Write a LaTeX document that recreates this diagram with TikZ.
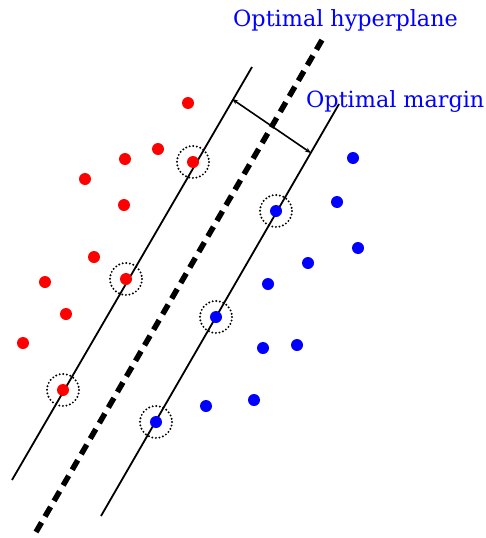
\documentclass[tikz,border=0pt]{standalone}
\usepackage{tikz}
\usepackage{fontspec}
\setmainfont{DejaVu Serif}
\usetikzlibrary{arrows.meta}

\tikzset{
  redpt/.style={circle,fill=red,inner sep=0pt,minimum size=12pt},
  bluept/.style={circle,fill=blue,inner sep=0pt,minimum size=12pt},
  svring/.style={line width=2.2pt,line cap=round,dash pattern=on 0pt off 3.6pt},
  planetext/.style={text=blue,inner sep=0pt,anchor=base west,font=\fontsize{22.3}{26}\selectfont}
}

\begin{document}
\begin{tikzpicture}[x=1pt,y=-1pt,>={Stealth[length=6pt,width=4.5pt]}]
  \useasboundingbox (0,0) rectangle (486,538);
  % margin lines and hyperplane
  \coordinate (lbot) at (12,480);  \coordinate (ltop) at (252,67);
  \coordinate (rbot) at (101,516); \coordinate (rtop) at (339,104);
  \coordinate (hbot) at (36,532);  \coordinate (htop) at (322,40);
  \draw[line width=1.8pt] (lbot) -- (ltop);
  \draw[line width=1.8pt] (rbot) -- (rtop);
  \draw[line width=5.5pt, dash pattern=on 11pt off 7pt] (hbot) -- (htop);
  \coordinate (ma) at (232,99);
  \coordinate (mb) at (311,153);
  \draw[<->, line width=1.6pt] (ma) -- (mb);
  % the two classes
  \foreach \px/\py [count=\i] in {188/103,125/159,158/149,85/179,124/205,193/162,
                                   94/257,45/282,126/279,66/314,23/343,63/390}
    \node[redpt] (r\i) at (\px,\py) {};
  \foreach \px/\py [count=\i] in {353/158,337/202,276/211,358/248,308/263,268/284,
                                   216/317,297/345,263/348,206/406,254/400,156/422}
    \node[bluept] (b\i) at (\px,\py) {};
  % support vectors
  \foreach \n in {r6,r9,r12,b3,b7,b12}
    \draw[svring] (\n) circle[radius=16];
  \node[planetext] (hyp) at (233,27) {Optimal hyperplane};
  \node[planetext] (mar) at (306,107) {Optimal margin};
\end{tikzpicture}
\end{document}
